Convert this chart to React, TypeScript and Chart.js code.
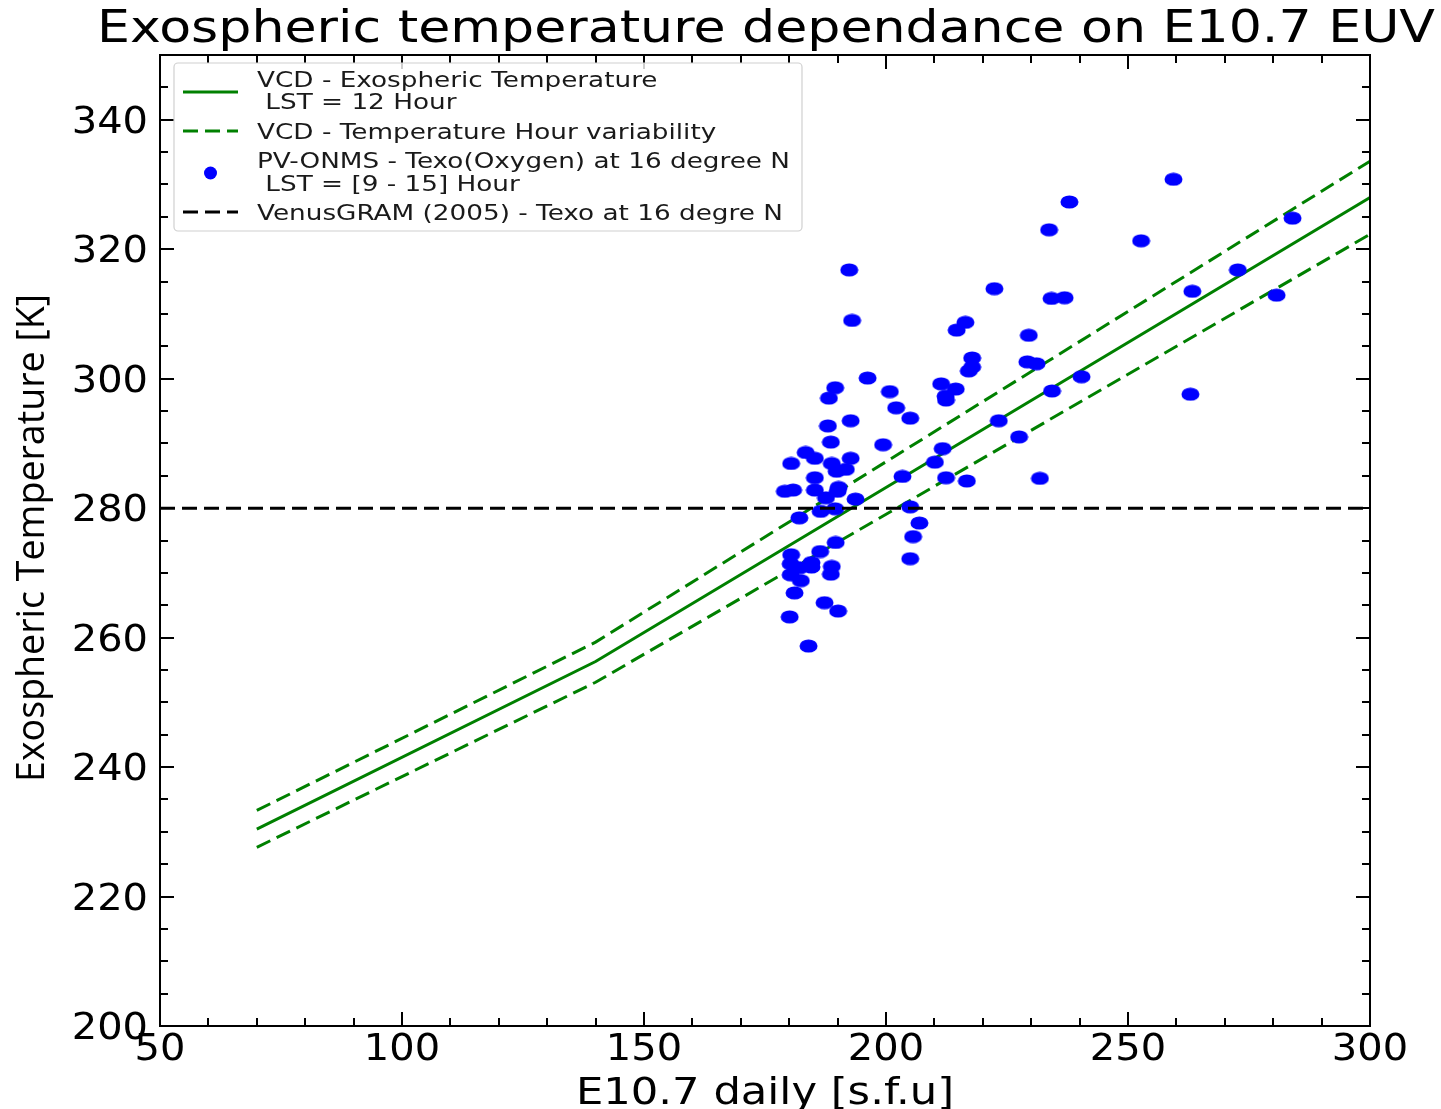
import React, { useEffect, useRef } from 'react';
import { Chart, registerables } from 'chart.js';

Chart.register(...registerables);

// ---------- text ----------
const TITLE = 'Exospheric temperature dependance on E10.7 EUV';
const X_LABEL = 'E10.7 daily [s.f.u]';
const Y_LABEL = 'Exospheric Temperature [K]';

// ---------- ticks ----------
const X_TICKS = [50, 100, 150, 200, 250, 300];
const Y_TICKS = [200, 220, 240, 260, 280, 300, 320, 340];
const X_MINOR_STEP = 10;
const Y_MINOR_STEP = 5;
const X_MIN = 50;
const X_MAX = 300;
const Y_MIN = 200;
const Y_MAX = 350;

// ---------- series ----------
const LABEL_VCD = 'VCD - Exospheric Temperature\n LST = 12 Hour';
const LABEL_VAR = 'VCD - Temperature Hour variability';
const LABEL_PVO = 'PV-ONMS - Texo(Oxygen) at 16 degree N\n LST = [9 - 15] Hour';
const LABEL_VGRAM = 'VenusGRAM (2005) - Texo at 16 degre N';

const VCD_E107 = [70, 140, 300];
const VCD_TEXO = [230.4, 256.3, 328.0];
const VCD_TEXO_HIGH = [233.3, 259.3, 333.6];
const VCD_TEXO_LOW = [227.6, 253.1, 322.3];

const VGRAM_E107 = [50, 300];
const VGRAM_TEXO = [280, 280];

const PVO_E107 = [
  192.4, 193.0, 216.4, 214.6, 217.8, 217.8, 217.1, 196.2, 189.5, 188.2,
  200.8, 202.1, 205.0, 211.4, 214.4, 212.3, 212.4, 192.7, 188.0, 188.6,
  199.4, 211.7, 183.4, 185.3, 180.4, 188.8, 192.7, 189.8, 191.7, 210.1,
  185.3, 203.4, 212.4, 216.7, 179.1, 180.8, 185.3, 190.2, 190.0, 187.6,
  193.7, 186.5, 189.5, 205.0, 182.1, 206.9, 205.6, 189.6, 186.4, 180.4,
  180.3, 184.6, 184.6, 182.2, 188.8, 188.6, 180.3, 182.4, 205.0, 181.1,
  187.3, 190.1, 180.1, 184.0, 259.4, 237.9, 233.7, 252.7, 284.0, 222.4,
  234.2, 236.9, 272.7, 263.3, 280.7, 229.5, 229.2, 231.1, 240.4, 234.3,
  262.9, 223.3, 227.5, 231.8,
];
const PVO_TEXO = [
  316.8, 309.0, 308.7, 307.5, 303.2, 301.8, 301.2, 300.1, 298.6, 297.0,
  298.0, 295.5, 293.9, 299.2, 298.4, 297.3, 296.7, 293.5, 292.7, 290.2,
  289.8, 289.2, 288.6, 287.7, 286.9, 286.9, 287.7, 285.7, 286.0, 287.1,
  284.7, 284.9, 284.7, 284.2, 282.6, 282.8, 282.8, 283.2, 282.6, 281.6,
  281.4, 279.5, 279.9, 280.2, 278.5, 277.7, 275.6, 274.7, 273.3, 272.8,
  271.4, 271.6, 270.9, 270.8, 271.0, 269.8, 269.7, 268.8, 272.2, 266.9,
  265.4, 264.1, 263.2, 258.7, 330.8, 327.3, 323.0, 321.3, 324.8, 313.9,
  312.4, 312.5, 316.8, 313.5, 312.9, 306.7, 302.6, 302.3, 300.3, 298.1,
  297.6, 293.5, 291.0, 284.6,
];

const GREEN = '#008000';
const BLUE = '#0000ff';
const DASH = [15, 7];

function zip(xs: number[], ys: number[]) {
  return xs.map((x, i) => ({ x, y: ys[i] }));
}

function drawText(
  ctx: CanvasRenderingContext2D,
  text: string,
  x: number,
  y: number,
  font: string,
  sx: number,
  align: CanvasTextAlign,
  baseline: CanvasTextBaseline,
  rotate = 0,
) {
  ctx.save();
  ctx.font = font;
  ctx.textAlign = align;
  ctx.textBaseline = baseline;
  ctx.translate(x, y);
  if (rotate) ctx.rotate(rotate);
  ctx.scale(sx, 1);
  ctx.fillText(text, 0, 0);
  ctx.restore();
}

function fitScale(ctx: CanvasRenderingContext2D, text: string, font: string, target: number) {
  ctx.save();
  ctx.font = font;
  const w = ctx.measureText(text).width;
  ctx.restore();
  return w > 0 ? target / w : 1;
}

const decorPlugin = {
  id: 'decor',
  afterDraw(chart: any) {
    const ctx: CanvasRenderingContext2D = chart.ctx;
    const a = chart.chartArea;
    const xs = chart.scales.x;
    const ys = chart.scales.y;
    ctx.save();
    ctx.fillStyle = '#000';
    ctx.strokeStyle = '#000';

    // frame
    ctx.lineWidth = 2;
    ctx.strokeRect(a.left, a.top, a.right - a.left, a.bottom - a.top);

    const seg = (x1: number, y1: number, x2: number, y2: number) => {
      ctx.beginPath();
      ctx.moveTo(x1, y1);
      ctx.lineTo(x2, y2);
      ctx.stroke();
    };

    // inward ticks on all four sides
    ctx.lineWidth = 2;
    for (let v = X_MIN; v <= X_MAX + 1e-9; v += X_MINOR_STEP) {
      const len = X_TICKS.includes(v) ? 14 : 8;
      const px = Math.round(xs.getPixelForValue(v));
      seg(px, a.bottom, px, a.bottom - len);
      seg(px, a.top, px, a.top + len);
    }
    for (let v = Y_MIN; v <= Y_MAX + 1e-9; v += Y_MINOR_STEP) {
      const len = Y_TICKS.includes(v) ? 14 : 8;
      const py = Math.round(ys.getPixelForValue(v));
      seg(a.left, py, a.left + len, py);
      seg(a.right, py, a.right - len, py);
    }

    // tick labels
    const tickFont = '37px "DejaVu Sans"';
    X_TICKS.forEach((v) => {
      drawText(ctx, String(v), xs.getPixelForValue(v), a.bottom + 34, tickFont, 1.08, 'center', 'alphabetic');
    });
    Y_TICKS.forEach((v) => {
      drawText(ctx, String(v), a.left - 12, ys.getPixelForValue(v) + 13, tickFont, 1.08, 'right', 'alphabetic');
    });

    // title
    const titleFont = '44px "DejaVu Sans"';
    const tsx = fitScale(ctx, TITLE, titleFont, 1338);
    drawText(ctx, TITLE, 766, 42, titleFont, tsx, 'center', 'alphabetic');

    // x label
    const xlFont = '38px "DejaVu Sans"';
    const xsx = fitScale(ctx, X_LABEL, xlFont, 378);
    drawText(ctx, X_LABEL, (a.left + a.right) / 2, 1104, xlFont, xsx, 'center', 'alphabetic');

    // y label (rotated)
    const ylFont = '39px "Open Sans"';
    const ysx = fitScale(ctx, Y_LABEL, ylFont, 488);
    drawText(ctx, Y_LABEL, 44, 538, ylFont, ysx, 'center', 'alphabetic', -Math.PI / 2);

    // legend
    const lx = 174, ly = 63, lw = 628, lh = 168;
    ctx.save();
    ctx.beginPath();
    (ctx as any).roundRect(lx, ly, lw, lh, 4);
    ctx.fillStyle = 'rgba(255,255,255,0.8)';
    ctx.fill();
    ctx.strokeStyle = '#d0d0d0';
    ctx.lineWidth = 1.2;
    ctx.stroke();
    ctx.restore();

    const ds = chart.data.datasets;
    const byLabel = (lab: string) => ds.find((d: any) => d.label === lab);
    const legFont = '21px "DejaVu Sans"';
    const lsx = fitScale(ctx, LABEL_PVO.split('\n')[0], legFont, 533);
    const textX = 257;
    const hx1 = 183, hx2 = 238;

    const entries = [
      { lab: LABEL_VCD, lines: [79, 101], hy: 92, kind: 'line' },
      { lab: LABEL_VAR, lines: [131], hy: 131, kind: 'line' },
      { lab: LABEL_PVO, lines: [160, 183], hy: 173, kind: 'dot' },
      { lab: LABEL_VGRAM, lines: [212], hy: 212, kind: 'line' },
    ];
    entries.forEach((e) => {
      const d = byLabel(e.lab);
      if (!d) return;
      ctx.save();
      if (e.kind === 'line') {
        ctx.strokeStyle = d.borderColor;
        ctx.lineWidth = d.borderWidth;
        ctx.setLineDash(d.borderDash || []);
        seg(hx1, e.hy, hx2, e.hy);
      } else {
        ctx.fillStyle = BLUE;
        ctx.beginPath();
        ctx.arc((hx1 + hx2) / 2, e.hy, 6.5, 0, Math.PI * 2);
        ctx.fill();
      }
      ctx.restore();
      ctx.fillStyle = '#1a1a1a';
      const parts = d.label.split('\n');
      parts.forEach((t: string, i: number) => {
        drawText(ctx, t, textX, e.lines[i] + 8, legFont, lsx, 'left', 'alphabetic');
      });
    });

    ctx.restore();
  },
};

export default function App() {
  const ref = useRef<HTMLCanvasElement | null>(null);

  useEffect(() => {
    const canvas = ref.current;
    if (!canvas) return;

    const dot = document.createElement('canvas');
    dot.width = 19;
    dot.height = 14;
    const dctx = dot.getContext('2d')!;
    dctx.fillStyle = BLUE;
    dctx.beginPath();
    dctx.ellipse(9.5, 7, 9, 6.6, 0, 0, Math.PI * 2);
    dctx.fill();

    const chart = new Chart(canvas, {
      type: 'scatter',
      data: {
        datasets: [
          {
            label: LABEL_VGRAM,
            data: zip(VGRAM_E107, VGRAM_TEXO),
            showLine: true,
            borderColor: '#000000',
            borderWidth: 3,
            borderDash: DASH,
            pointRadius: 0,
            order: 0,
          },
          {
            label: LABEL_PVO,
            data: zip(PVO_E107, PVO_TEXO),
            showLine: false,
            pointStyle: dot as any,
            pointRadius: 7,
            backgroundColor: BLUE,
            borderColor: BLUE,
            order: 1,
          },
          {
            label: LABEL_VCD,
            data: zip(VCD_E107, VCD_TEXO),
            showLine: true,
            borderColor: GREEN,
            borderWidth: 3,
            pointRadius: 0,
            order: 2,
          },
          {
            label: LABEL_VAR,
            data: zip(VCD_E107, VCD_TEXO_HIGH),
            showLine: true,
            borderColor: GREEN,
            borderWidth: 3,
            borderDash: DASH,
            pointRadius: 0,
            order: 3,
          },
          {
            label: '_VAR_LOW',
            data: zip(VCD_E107, VCD_TEXO_LOW),
            showLine: true,
            borderColor: GREEN,
            borderWidth: 3,
            borderDash: DASH,
            pointRadius: 0,
            order: 4,
          },
        ],
      },
      options: {
        animation: false,
        responsive: false,
        maintainAspectRatio: false,
        events: [],
        layout: { padding: { left: 160, right: 71, top: 55, bottom: 83 } },
        plugins: {
          legend: { display: false },
          title: { display: false },
          tooltip: { enabled: false },
        },
        scales: {
          x: { type: 'linear', min: X_MIN, max: X_MAX, display: false },
          y: { type: 'linear', min: Y_MIN, max: Y_MAX, display: false },
        },
      },
      plugins: [decorPlugin],
    });

    return () => chart.destroy();
  }, []);

  return (
    <div style={{ position: 'fixed', left: 0, top: 0, width: 1441, height: 1109, background: '#fff' }}>
      <canvas ref={ref} width={1441} height={1109} style={{ width: 1441, height: 1109 }} />
    </div>
  );
}
